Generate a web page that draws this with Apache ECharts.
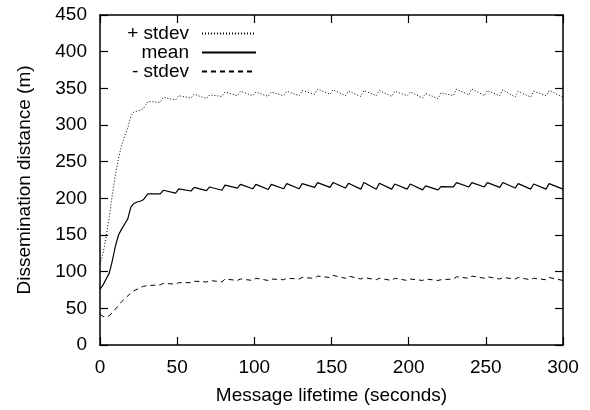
<!DOCTYPE html>
<html>
<head>
<meta charset="utf-8">
<script src="https://cdn.jsdelivr.net/npm/echarts@6/dist/echarts.min.js"></script>
<style>
html,body{margin:0;padding:0;background:#fff;}
#chart{width:590px;height:410px;}
</style>
</head>
<body>
<div id="chart"></div>
<script>
// Message lifetime (seconds)
const lifetime = [0,2,4,6,8,10,12,14,16,18,20,22,24,26,28,31,
  39,41,49,51,59,61,69,71,79,81,89,91,99,101,109,111,119,121,129,131,
  139,141,149,151,159,161,169,171,179,181,189,191,199,201,209,211,219,221,
  229,231,239,241,249,251,259,261,269,271,279,281,289,291,300];

const meanDist = [76,82,90,98,115,135,150,158,165,172,188,193,195,196,198,206,
  206,211,207,213,210,215,210.5,215.5,211,218,214,219,213,219,212,219,213,220,213,220,
  215,221.5,215,221.5,214,220.5,212.5,221.5,212.5,220.5,212.5,219.5,212.5,219.5,211.5,217,211.5,216,
  215.5,221.5,215.5,221.5,215.5,221.5,215,221.5,214,220,212.5,219.5,212.5,220,212.5];

const plusStdev = [110,125,148,175,205,232,255,272,285,296,312,318,319,320,322,332,
  331,338,334,340,337,342,336,341,339,345,340,346,340,345,339,345,340,346,340,347,
  342,349,342,348,340,346,339,347,340,347,339,346,340,345,337,343,336,344,
  340,349,341,349,340,347,340,348,338,346,338,346,340,347,338];

const minusStdev = [42,39,38,40,44,49,54,59,63,67,71,74,76,78,80,81,
  82,84,83,85,85,87,86,88,86,90,88,90,88,91,88,90,89,91,90,92,
  91,94,92,95,91,94,90,92,89,91,88,91,88,90,88,90,88,89,
  90,93,91,94,91,93,90,92,90,92,89,91,89,92,88];

const xTicks = [0,50,100,150,200,250,300];
const yTicks = [0,50,100,150,200,250,300,350,400,450];

const seriesNames = ['+ stdev','mean','- stdev'];

function pairs(xs, ys){ return xs.map((x,i)=>[x, ys[i]]); }

const FONT = "'Liberation Sans', Arial, Helvetica, sans-serif";
const FS = 19;
const chart = echarts.init(document.getElementById('chart'), null, {renderer:'canvas'});

const axisCommonX = {
  type:'value', min:xTicks[0], max:xTicks[xTicks.length-1], interval:xTicks[1]-xTicks[0],
  splitLine:{show:false},
  axisLine:{show:true, onZero:false, lineStyle:{color:'#000', width:1.5}},
  axisTick:{show:true, inside:true, length:8, lineStyle:{color:'#000', width:1.2}}
};
const axisCommonY = {
  type:'value', min:yTicks[0], max:yTicks[yTicks.length-1], interval:yTicks[1]-yTicks[0],
  splitLine:{show:false},
  axisLine:{show:true, onZero:false, lineStyle:{color:'#000', width:1.5}},
  axisTick:{show:true, inside:true, length:8, lineStyle:{color:'#000', width:1.2}}
};

const lineStyles = [
  {color:'#000', width:1, type:[1,2]},
  {color:'#000', width:1.2, type:'solid'},
  {color:'#000', width:1, type:[5,4]}
];
const dataSets = [plusStdev, meanDist, minusStdev];

const legendTops = [24, 43, 62];

chart.setOption({
  animation:false,
  backgroundColor:'#fff',
  textStyle:{fontFamily:FONT},
  grid:{left:100, right:27, top:15, bottom:60, containLabel:false},
  xAxis:[
    Object.assign({}, axisCommonX, {
      position:'bottom',
      name:'Message lifetime (seconds)', nameLocation:'middle', nameGap:41,
      nameTextStyle:{fontSize:FS, color:'#000', fontFamily:FONT},
      axisLabel:{show:true, margin:13, fontSize:FS, color:'#000', fontFamily:FONT}
    }),
    Object.assign({}, axisCommonX, {position:'top', axisLabel:{show:false}})
  ],
  yAxis:[
    Object.assign({}, axisCommonY, {
      position:'left',
      name:'Dissemination distance (m)', nameLocation:'middle', nameGap:66, nameRotate:90,
      nameTextStyle:{fontSize:FS, color:'#000', fontFamily:FONT},
      axisLabel:{show:true, margin:13, fontSize:FS, color:'#000', fontFamily:FONT}
    }),
    Object.assign({}, axisCommonY, {position:'right', axisLabel:{show:false}})
  ],
  legend: seriesNames.map((n,i)=>({
    data:[n], right:333, top:legendTops[i], orient:'vertical', align:'right',
    itemWidth:54, itemHeight:14, itemGap:0, padding:0,
    itemStyle:{color:'rgba(0,0,0,0)', borderWidth:0, opacity:0},
    textStyle:{fontSize:FS, color:'#000', fontFamily:FONT, padding:[0,8,0,0]},
    selectedMode:false
  })),
  series: seriesNames.map((n,i)=>({
    name:n, type:'line', xAxisIndex:0, yAxisIndex:0,
    data:pairs(lifetime, dataSets[i]),
    symbol:'none', showSymbol:false, smooth:false,
    lineStyle:lineStyles[i], itemStyle:{color:'#000'},
    emphasis:{disabled:true}
  }))
});
</script>
</body>
</html>
